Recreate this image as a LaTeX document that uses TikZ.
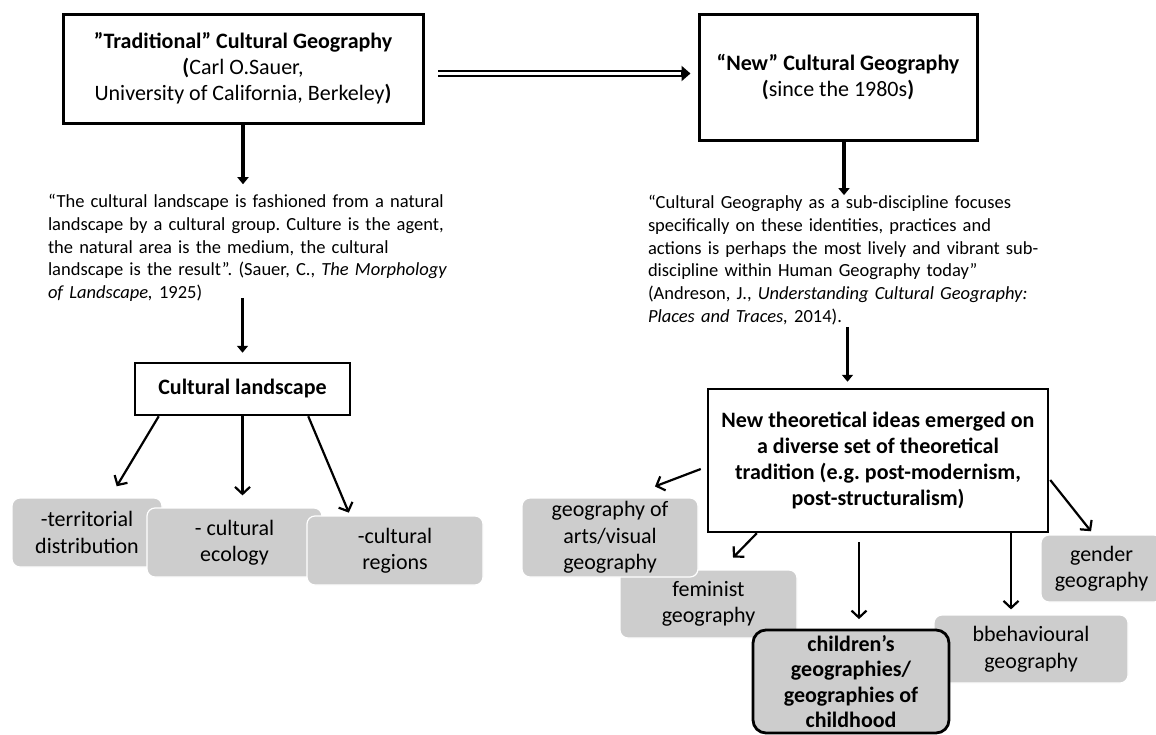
\documentclass[tikz,border=0pt]{standalone}
\usepackage{fontspec}
\setmainfont{Carlito}
\usetikzlibrary{arrows.meta}
\definecolor{boxgray}{RGB}{205,205,205}
\frenchspacing
\begin{document}
\begin{tikzpicture}[x=1pt,y=-1pt,
  box/.style={draw, line width=2.5pt, align=center, inner sep=0pt,
    font=\fontsize{22}{26}\selectfont},
  grayb/.style={fill=boxgray, draw=white, line width=1.2pt, rounded corners=8pt,
    align=center, inner sep=0pt, font=\fontsize{22}{26.5}\selectfont},
  quote/.style={align=left, inner sep=0pt, font=\fontsize{18.5}{22.7}\selectfont},
  bigarrow/.style={line width=3.6pt, -{Triangle[length=7pt,width=11pt]}},
  thinarrow/.style={line width=2.2pt, -{Straight Barb[length=7pt,width=15pt]}},
  dblouter/.style={line width=7pt, -{Triangle[length=9pt,width=15pt]}},
  dblinner/.style={line width=2.4pt, white},
]
\useasboundingbox (0,0) rectangle (1156,734);

% top boxes
\node[box, line width=3pt, minimum width=360pt, minimum height=109pt] (trad) at (243,68.5)
  {\textbf{”Traditional” Cultural Geography}\\\textbf{(}Carl O.Sauer,\\University of California, Berkeley\textbf{)}};
\node[box, line width=3pt, minimum width=278pt, minimum height=126pt] (new) at (838,77)
  {\textbf{“New” Cultural Geography}\\\textbf{(}since the 1980s\textbf{)}};

\coordinate (dbl) at (0,73.5);
\draw[dblouter, shorten <=13.5pt, shorten >=7pt] (trad.east |- dbl) -- (new.west |- dbl);
\draw[dblinner, shorten <=13.5pt, shorten >=17pt] (trad.east |- dbl) -- (new.west |- dbl);

% quotes
\node[quote, text width=406pt] (q1) at (251,248)
  {\makebox[\linewidth][s]{“The cultural landscape is fashioned from a natural}\\
   \makebox[\linewidth][s]{landscape by a cultural group. Culture is the agent,}\\
   \makebox[\linewidth][s]{the natural area is the medium, the cultural}\\
   \makebox[\linewidth][s]{landscape is the result”. (Sauer, C., \textit{The Morphology}}\\
   \textit{of Landscape,} 1925)};
\node[quote, text width=399pt] (q2) at (847.5,260)
  {\makebox[\linewidth][s]{“Cultural Geography as a sub-discipline focuses}\\
   \makebox[\linewidth][s]{specifically on these identities, practices and}\\
   \makebox[\linewidth][s]{actions is perhaps the most lively and vibrant sub-}\\
   \makebox[\linewidth][s]{discipline within Human Geography today”}\\
   \makebox[\linewidth][s]{(Andreson, J., \textit{Understanding Cultural Geography:}}\\
   \textit{Places and Traces,} 2014).};

\draw[bigarrow, shorten >=10pt] (trad.south) -- (trad.south |- q1.north);
\draw[bigarrow] ([shift={(6,0)}]new.south) -- ([shift={(6,0)}]new.south |- q2.north);

% left branch
\node[box, minimum width=215pt, minimum height=52pt] (cl) at (242.5,389)
  {\textbf{Cultural landscape}};
\draw[bigarrow, shorten <=-4pt, shorten >=9pt] (q1.south -| cl.north) -- (cl.north);

\node[grayb, minimum width=150pt, minimum height=69pt] (terr) at (87,532.5) {-territorial\\distribution};
\node[grayb, minimum width=175pt, minimum height=69pt] (eco) at (234.5,542.5) {- cultural\\ecology};
\node[grayb, minimum width=176pt, minimum height=69pt] (reg) at (395,550.5) {-cultural\\regions};

\draw[thinarrow, shorten >=13pt] ([shift={(25,0)}]cl.south west) -- ([shift={(23,0)}]terr.north);
\draw[thinarrow, shorten >=12pt] (cl.south) -- (cl.south |- eco.north);
\draw[thinarrow, shorten >=3pt] ([shift={(-43,0)}]cl.south east) -- ([shift={(-45,0)}]reg.north);

% right branch
\node[box, minimum width=340pt, minimum height=143pt] (big) at (878,460.5)
  {\textbf{New theoretical ideas emerged on}\\\textbf{a diverse set of theoretical}\\
   \textbf{tradition (e.g. post-modernism,}\\\textbf{post-structuralism)}};
\draw[bigarrow, shorten <=2pt, shorten >=6pt] (q2.south) -- (q2.south |- big.north);

\node[grayb, minimum width=177pt, minimum height=68pt] (fem) at (708.5,604) {feminist\\geography};
\node[grayb, minimum width=176pt, minimum height=79pt] (arts) at (610,537.5) {geography of\\arts/visual\\geography};
\node[grayb, minimum width=194pt, minimum height=68pt] (beh) at (1031,649) {bbehavioural\\geography};
\node[grayb, draw=black, line width=2.8pt, rounded corners=13pt, minimum width=196pt,
  minimum height=103pt, font=\bfseries\fontsize{22}{25.5}\selectfont] (child) at (851,681.5)
  {children’s\\geographies/\\geographies of\\childhood};
\node[grayb, minimum width=121pt, minimum height=67pt] (gen) at (1101.5,568.5) {gender\\geography};

\draw[thinarrow, shorten >=31pt] ([shift={(-6,8.5)}]big.west) -- ([shift={(16,0)}]arts.north);
\draw[thinarrow, shorten >=16.5pt] ([shift={(50,0)}]big.south west) -- ([shift={(13,0)}]fem.north);
\draw[thinarrow, shorten <=9pt, shorten >=9.5pt] ([shift={(8,0)}]child.north |- big.south) -- ([shift={(8,0)}]child.north);
\draw[thinarrow, shorten >=5pt] ([shift={(-20,0)}]beh.north |- big.south) -- ([shift={(-20,0)}]beh.north);
\draw[thinarrow, shorten >=4pt] ([shift={(1,19.5)}]big.east) -- ([shift={(-8,0)}]gen.north);
\end{tikzpicture}
\end{document}
